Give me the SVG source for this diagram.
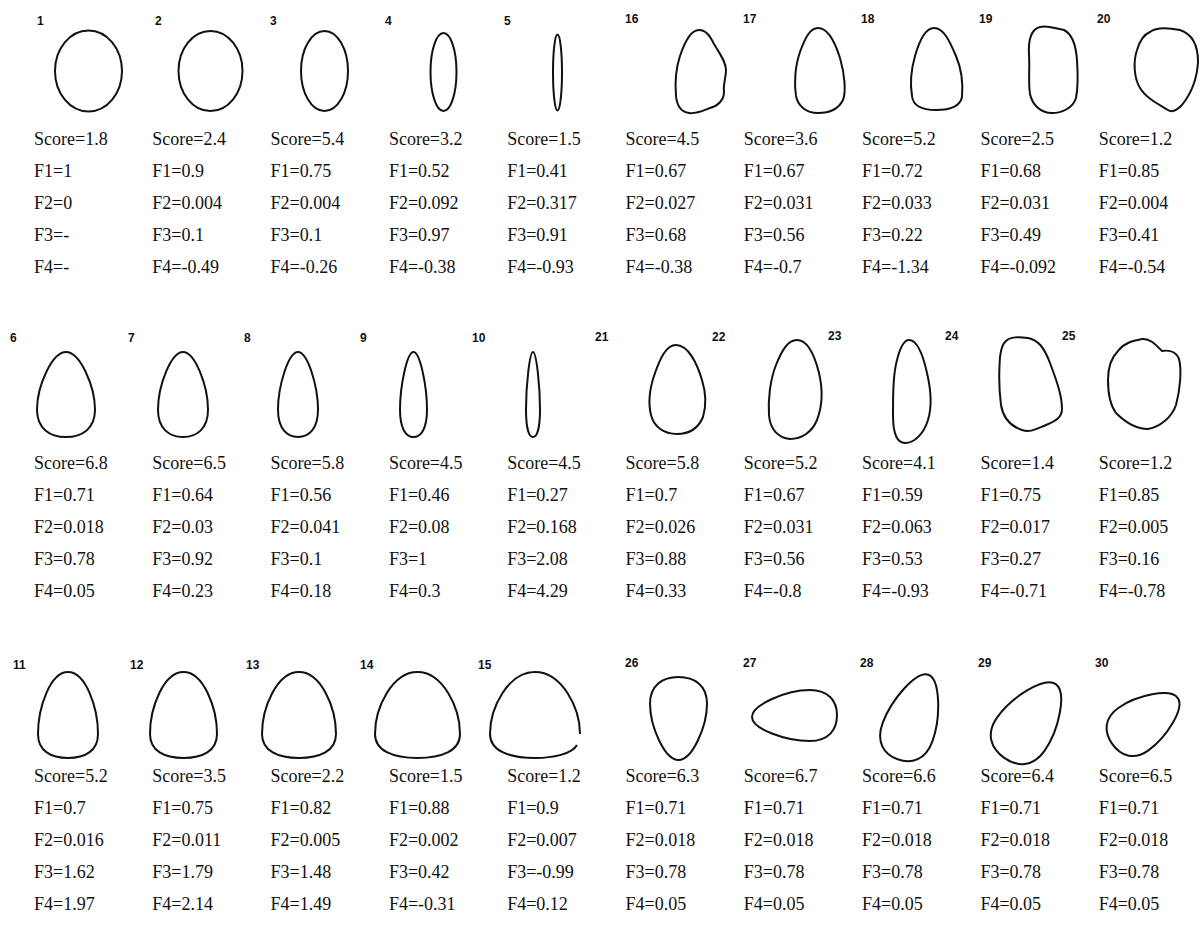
<svg xmlns="http://www.w3.org/2000/svg" width="1201" height="928" viewBox="0 0 1201 928">
<style>
.sh{fill:none;stroke:#111;stroke-width:2;stroke-linejoin:round}
.lb{font-family:"Liberation Sans",Arial,sans-serif;font-weight:bold;font-size:12px;fill:#111}
.t{font-family:"Liberation Serif","Times New Roman",serif;font-size:18px;fill:#111}
</style>
<rect width="1201" height="928" fill="#fff"/>

<!-- Row 1 -->
<g id="n1"><ellipse class="sh" cx="88.5" cy="71" rx="33.5" ry="40.5"/><text class="lb" x="37" y="25">1</text>
<text class="t" x="34" y="145"><tspan x="34">Score=1.8</tspan><tspan x="34" dy="31.9">F1=1</tspan><tspan x="34" dy="31.9">F2=0</tspan><tspan x="34" dy="31.9">F3=-</tspan><tspan x="34" dy="31.9">F4=-</tspan></text></g>
<g id="n2"><ellipse class="sh" cx="210.5" cy="71" rx="32" ry="40"/><text class="lb" x="155" y="25">2</text>
<text class="t" x="152.3" y="145"><tspan x="152.3">Score=2.4</tspan><tspan x="152.3" dy="31.9">F1=0.9</tspan><tspan x="152.3" dy="31.9">F2=0.004</tspan><tspan x="152.3" dy="31.9">F3=0.1</tspan><tspan x="152.3" dy="31.9">F4=-0.49</tspan></text></g>
<g id="n3"><ellipse class="sh" cx="324.5" cy="71" rx="23.5" ry="40"/><text class="lb" x="270" y="25">3</text>
<text class="t" x="270.6" y="145"><tspan x="270.6">Score=5.4</tspan><tspan x="270.6" dy="31.9">F1=0.75</tspan><tspan x="270.6" dy="31.9">F2=0.004</tspan><tspan x="270.6" dy="31.9">F3=0.1</tspan><tspan x="270.6" dy="31.9">F4=-0.26</tspan></text></g>
<g id="n4"><ellipse class="sh" cx="443.5" cy="72" rx="13" ry="39"/><text class="lb" x="385" y="25">4</text>
<text class="t" x="388.9" y="145"><tspan x="388.9">Score=3.2</tspan><tspan x="388.9" dy="31.9">F1=0.52</tspan><tspan x="388.9" dy="31.9">F2=0.092</tspan><tspan x="388.9" dy="31.9">F3=0.97</tspan><tspan x="388.9" dy="31.9">F4=-0.38</tspan></text></g>
<g id="n5"><ellipse class="sh" cx="557.5" cy="72.5" rx="4.5" ry="38"/><text class="lb" x="504" y="25">5</text>
<text class="t" x="507.2" y="145"><tspan x="507.2">Score=1.5</tspan><tspan x="507.2" dy="31.9">F1=0.41</tspan><tspan x="507.2" dy="31.9">F2=0.317</tspan><tspan x="507.2" dy="31.9">F3=0.91</tspan><tspan x="507.2" dy="31.9">F4=-0.93</tspan></text></g>
<g id="n16"><path class="sh" d="M699,30 C706,30 710,36 714,44 C720,54 726,62 726,70 C726,78 723,84 724,92 C724,100 718,106 710,108 C702,111 696,114 689,113 C681,112 677,106 676,96 C675,84 676,68 680,56 C684,44 690,30 699,30 Z"/><text class="lb" x="625" y="23">16</text>
<text class="t" x="625.5" y="145"><tspan x="625.5">Score=4.5</tspan><tspan x="625.5" dy="31.9">F1=0.67</tspan><tspan x="625.5" dy="31.9">F2=0.027</tspan><tspan x="625.5" dy="31.9">F3=0.68</tspan><tspan x="625.5" dy="31.9">F4=-0.38</tspan></text></g>
<g id="n17"><path class="sh" d="M818,28 C828,28 835,42 840,58 C845,75 846,92 843,100 C838,110 828,113 818,113 C806,113 798,106 796,96 C794,84 795,66 800,52 C805,38 810,28 818,28 Z"/><text class="lb" x="743" y="23">17</text>
<text class="t" x="743.8" y="145"><tspan x="743.8">Score=3.6</tspan><tspan x="743.8" dy="31.9">F1=0.67</tspan><tspan x="743.8" dy="31.9">F2=0.031</tspan><tspan x="743.8" dy="31.9">F3=0.56</tspan><tspan x="743.8" dy="31.9">F4=-0.7</tspan></text></g>
<g id="n18"><path class="sh" d="M934,28 C944,28 950,42 956,56 C962,70 963,85 962,97 C960,107 950,110 936,110 C922,110 913,106 912,96 C910,84 911,70 915,56 C919,42 925,28 934,28 Z"/><text class="lb" x="861" y="23">18</text>
<text class="t" x="862.1" y="145"><tspan x="862.1">Score=5.2</tspan><tspan x="862.1" dy="31.9">F1=0.72</tspan><tspan x="862.1" dy="31.9">F2=0.033</tspan><tspan x="862.1" dy="31.9">F3=0.22</tspan><tspan x="862.1" dy="31.9">F4=-1.34</tspan></text></g>
<g id="n19"><path class="sh" d="M1040,27 C1048,25 1056,29 1064,30 C1072,34 1076,46 1077,60 C1078,75 1078,88 1076,98 C1073,108 1062,113 1052,113 C1040,113 1032,104 1030,94 C1028,80 1030,70 1029,55 C1028,38 1032,29 1040,27 Z"/><text class="lb" x="979" y="23">19</text>
<text class="t" x="980.4" y="145"><tspan x="980.4">Score=2.5</tspan><tspan x="980.4" dy="31.9">F1=0.68</tspan><tspan x="980.4" dy="31.9">F2=0.031</tspan><tspan x="980.4" dy="31.9">F3=0.49</tspan><tspan x="980.4" dy="31.9">F4=-0.092</tspan></text></g>
<g id="n20"><path class="sh" d="M1150,32 C1156,27 1170,28 1180,30 C1192,34 1198,45 1198,62 C1197,80 1190,95 1182,105 C1177,110 1172,113 1168,110 C1158,104 1146,98 1140,88 C1134,78 1133,62 1137,50 C1140,40 1145,34 1150,32 Z"/><text class="lb" x="1097" y="23">20</text>
<text class="t" x="1098.7" y="145"><tspan x="1098.7">Score=1.2</tspan><tspan x="1098.7" dy="31.9">F1=0.85</tspan><tspan x="1098.7" dy="31.9">F2=0.004</tspan><tspan x="1098.7" dy="31.9">F3=0.41</tspan><tspan x="1098.7" dy="31.9">F4=-0.54</tspan></text></g>

<!-- Row 2 -->
<g id="n6"><path class="sh" d="M66,352 C79.9,352 95,386 95,409.8 C95,428.5 82.2,437 66,437 C49.8,437 37,428.5 37,409.8 C37,386 52.1,352 66,352 Z"/><text class="lb" x="10" y="341.5">6</text>
<text class="t" x="34" y="469"><tspan x="34">Score=6.8</tspan><tspan x="34" dy="31.9">F1=0.71</tspan><tspan x="34" dy="31.9">F2=0.018</tspan><tspan x="34" dy="31.9">F3=0.78</tspan><tspan x="34" dy="31.9">F4=0.05</tspan></text></g>
<g id="n7"><path class="sh" d="M183,352 C195,352 208,386 208,409.8 C208,428.5 197,437 183,437 C169,437 158,428.5 158,409.8 C158,386 171,352 183,352 Z"/><text class="lb" x="128" y="341.5">7</text>
<text class="t" x="152.3" y="469"><tspan x="152.3">Score=6.5</tspan><tspan x="152.3" dy="31.9">F1=0.64</tspan><tspan x="152.3" dy="31.9">F2=0.03</tspan><tspan x="152.3" dy="31.9">F3=0.92</tspan><tspan x="152.3" dy="31.9">F4=0.23</tspan></text></g>
<g id="n8"><path class="sh" d="M298,352 C307.6,352 318,386 318,409.8 C318,428.5 309.2,437 298,437 C286.8,437 278,428.5 278,409.8 C278,386 288.4,352 298,352 Z"/><text class="lb" x="244" y="341.5">8</text>
<text class="t" x="270.6" y="469"><tspan x="270.6">Score=5.8</tspan><tspan x="270.6" dy="31.9">F1=0.56</tspan><tspan x="270.6" dy="31.9">F2=0.041</tspan><tspan x="270.6" dy="31.9">F3=0.1</tspan><tspan x="270.6" dy="31.9">F4=0.18</tspan></text></g>
<g id="n9"><path class="sh" d="M413.5,352 C420,352 427,386 427,409.8 C427,428.5 421.1,437 413.5,437 C405.9,437 400,428.5 400,409.8 C400,386 407,352 413.5,352 Z"/><text class="lb" x="360" y="341.5">9</text>
<text class="t" x="388.9" y="469"><tspan x="388.9">Score=4.5</tspan><tspan x="388.9" dy="31.9">F1=0.46</tspan><tspan x="388.9" dy="31.9">F2=0.08</tspan><tspan x="388.9" dy="31.9">F3=1</tspan><tspan x="388.9" dy="31.9">F4=0.3</tspan></text></g>
<g id="n10"><path class="sh" d="M533,352 C536.4,352 540,386 540,409.8 C540,428.5 536.9,437 533,437 C529.1,437 526,428.5 526,409.8 C526,386 529.6,352 533,352 Z"/><text class="lb" x="472" y="341.5">10</text>
<text class="t" x="507.2" y="469"><tspan x="507.2">Score=4.5</tspan><tspan x="507.2" dy="31.9">F1=0.27</tspan><tspan x="507.2" dy="31.9">F2=0.168</tspan><tspan x="507.2" dy="31.9">F3=2.08</tspan><tspan x="507.2" dy="31.9">F4=4.29</tspan></text></g>
<g id="n21"><path class="sh" transform="translate(0,-5)" d="M676,350 C688,350 697,368 702,385 C706,398 706,412 703,422 C698,434 688,439 677,439 C664,439 654,432 651,420 C648,408 650,392 655,378 C660,364 666,350 676,350 Z"/><text class="lb" x="595" y="341">21</text>
<text class="t" x="625.5" y="469"><tspan x="625.5">Score=5.8</tspan><tspan x="625.5" dy="31.9">F1=0.7</tspan><tspan x="625.5" dy="31.9">F2=0.026</tspan><tspan x="625.5" dy="31.9">F3=0.88</tspan><tspan x="625.5" dy="31.9">F4=0.33</tspan></text></g>
<g id="n22"><path class="sh" transform="translate(0,-5)" d="M797,345 C808,345 815,362 819,378 C823,395 822,412 817,425 C812,437 802,444 790,444 C778,443 770,434 769,420 C768,405 770,385 776,370 C782,355 788,345 797,345 Z"/><text class="lb" x="712" y="341">22</text>
<text class="t" x="743.8" y="469"><tspan x="743.8">Score=5.2</tspan><tspan x="743.8" dy="31.9">F1=0.67</tspan><tspan x="743.8" dy="31.9">F2=0.031</tspan><tspan x="743.8" dy="31.9">F3=0.56</tspan><tspan x="743.8" dy="31.9">F4=-0.8</tspan></text></g>
<g id="n23"><path class="sh" transform="translate(0,-5)" d="M909,345 C917,345 923,360 927,378 C931,395 932,412 928,425 C924,438 915,448 905,448 C896,448 893,436 893,420 C893,400 893,380 897,365 C900,353 904,345 909,345 Z"/><text class="lb" x="828" y="339.5">23</text>
<text class="t" x="862.1" y="469"><tspan x="862.1">Score=4.1</tspan><tspan x="862.1" dy="31.9">F1=0.59</tspan><tspan x="862.1" dy="31.9">F2=0.063</tspan><tspan x="862.1" dy="31.9">F3=0.53</tspan><tspan x="862.1" dy="31.9">F4=-0.93</tspan></text></g>
<g id="n24"><path class="sh" transform="translate(0,-5)" d="M1005,347 C1010,341 1020,342 1028,343 C1038,345 1044,352 1050,368 C1056,384 1062,400 1062,414 C1062,422 1056,426 1046,430 C1036,434 1030,438 1022,435 C1010,431 1003,422 1001,410 C999,395 999,375 1000,362 C1001,354 1002,350 1005,347 Z"/><text class="lb" x="945" y="339.5">24</text>
<text class="t" x="980.4" y="469"><tspan x="980.4">Score=1.4</tspan><tspan x="980.4" dy="31.9">F1=0.75</tspan><tspan x="980.4" dy="31.9">F2=0.017</tspan><tspan x="980.4" dy="31.9">F3=0.27</tspan><tspan x="980.4" dy="31.9">F4=-0.71</tspan></text></g>
<g id="n25"><path class="sh" transform="translate(0,-5)" d="M1118,356 C1124,348 1132,346 1142,344 C1150,343 1156,350 1162,356 C1168,355 1176,356 1179,364 C1182,375 1180,395 1176,410 C1172,422 1160,432 1148,434 C1136,434 1124,426 1116,418 C1110,410 1108,398 1108,385 C1108,372 1112,362 1118,356 Z"/><text class="lb" x="1062" y="339.5">25</text>
<text class="t" x="1098.7" y="469"><tspan x="1098.7">Score=1.2</tspan><tspan x="1098.7" dy="31.9">F1=0.85</tspan><tspan x="1098.7" dy="31.9">F2=0.005</tspan><tspan x="1098.7" dy="31.9">F3=0.16</tspan><tspan x="1098.7" dy="31.9">F4=-0.78</tspan></text></g>

<!-- Row 3 -->
<g id="n11"><path class="sh" d="M68,672 C86,672 98,708.1 98,733.9 C98,751.1 84.8,758 68,758 C51.2,758 38,751.1 38,733.9 C38,708.1 50,672 68,672 Z"/><text class="lb" x="13" y="668.5">11</text>
<text class="t" x="34" y="782"><tspan x="34">Score=5.2</tspan><tspan x="34" dy="31.9">F1=0.7</tspan><tspan x="34" dy="31.9">F2=0.016</tspan><tspan x="34" dy="31.9">F3=1.62</tspan><tspan x="34" dy="31.9">F4=1.97</tspan></text></g>
<g id="n12"><path class="sh" d="M183.5,672 C203.6,672 217,708.1 217,733.9 C217,751.1 202.3,758 183.5,758 C164.7,758 150,751.1 150,733.9 C150,708.1 163.4,672 183.5,672 Z"/><text class="lb" x="130" y="668.5">12</text>
<text class="t" x="152.3" y="782"><tspan x="152.3">Score=3.5</tspan><tspan x="152.3" dy="31.9">F1=0.75</tspan><tspan x="152.3" dy="31.9">F2=0.011</tspan><tspan x="152.3" dy="31.9">F3=1.79</tspan><tspan x="152.3" dy="31.9">F4=2.14</tspan></text></g>
<g id="n13"><path class="sh" d="M299,672 C321.2,672 336,708.1 336,733.9 C336,751.1 319.7,758 299,758 C278.3,758 262,751.1 262,733.9 C262,708.1 276.8,672 299,672 Z"/><text class="lb" x="246" y="668.5">13</text>
<text class="t" x="270.6" y="782"><tspan x="270.6">Score=2.2</tspan><tspan x="270.6" dy="31.9">F1=0.82</tspan><tspan x="270.6" dy="31.9">F2=0.005</tspan><tspan x="270.6" dy="31.9">F3=1.48</tspan><tspan x="270.6" dy="31.9">F4=1.49</tspan></text></g>
<g id="n14"><path class="sh" d="M417.5,672 C443,672 460,708.1 460,733.9 C460,751.1 441.3,758 417.5,758 C393.7,758 375,751.1 375,733.9 C375,708.1 392,672 417.5,672 Z"/><text class="lb" x="360" y="668.5">14</text>
<text class="t" x="388.9" y="782"><tspan x="388.9">Score=1.5</tspan><tspan x="388.9" dy="31.9">F1=0.88</tspan><tspan x="388.9" dy="31.9">F2=0.002</tspan><tspan x="388.9" dy="31.9">F3=0.42</tspan><tspan x="388.9" dy="31.9">F4=-0.31</tspan></text></g>
<g id="n15"><path class="sh" d="M580,733.9 C580,708.1 562,672 535,672 C508,672 490,708.1 490,733.9 C490,751.1 509.8,758 535,758 C553,758 572,754 577,745"/><text class="lb" x="478" y="668.5">15</text>
<text class="t" x="507.2" y="782"><tspan x="507.2">Score=1.2</tspan><tspan x="507.2" dy="31.9">F1=0.9</tspan><tspan x="507.2" dy="31.9">F2=0.007</tspan><tspan x="507.2" dy="31.9">F3=-0.99</tspan><tspan x="507.2" dy="31.9">F4=0.12</tspan></text></g>
<g id="n26"><path class="sh" d="M678.5,760 C692.2,760 707,726.8 707,703.6 C707,685.3 694.5,677 678.5,677 C662.5,677 650,685.3 650,703.6 C650,726.8 664.8,760 678.5,760 Z"/><text class="lb" x="625" y="666.5">26</text>
<text class="t" x="625.5" y="782"><tspan x="625.5">Score=6.3</tspan><tspan x="625.5" dy="31.9">F1=0.71</tspan><tspan x="625.5" dy="31.9">F2=0.018</tspan><tspan x="625.5" dy="31.9">F3=0.78</tspan><tspan x="625.5" dy="31.9">F4=0.05</tspan></text></g>
<g id="n27"><path class="sh" d="M752,717 C752,729 786,741 809.8,741 C828.5,741 837,730 837,715 C837,701 828.5,690 809.8,690 C786,690 752,705 752,717 Z"/><text class="lb" x="743" y="666.5">27</text>
<text class="t" x="743.8" y="782"><tspan x="743.8">Score=6.7</tspan><tspan x="743.8" dy="31.9">F1=0.71</tspan><tspan x="743.8" dy="31.9">F2=0.018</tspan><tspan x="743.8" dy="31.9">F3=0.78</tspan><tspan x="743.8" dy="31.9">F4=0.05</tspan></text></g>
<g id="n28"><path class="sh" d="M928.4,674.7 C940.3,679.1 941,717.6 932.4,741.3 C925.6,759.9 911.6,764.4 897.6,759.3 C883.7,754.2 875.8,741.8 882.6,723.2 C891.2,699.5 916.4,670.4 928.4,674.7 Z"/><text class="lb" x="860" y="666.5">28</text>
<text class="t" x="862.1" y="782"><tspan x="862.1">Score=6.6</tspan><tspan x="862.1" dy="31.9">F1=0.71</tspan><tspan x="862.1" dy="31.9">F2=0.018</tspan><tspan x="862.1" dy="31.9">F3=0.78</tspan><tspan x="862.1" dy="31.9">F4=0.05</tspan></text></g>
<g id="n29"><path class="sh" d="M1055.8,684.1 C1067.2,692.1 1058.9,730.3 1044.5,750.9 C1033.1,767.1 1017.5,767.2 1004.2,757.9 C990.9,748.5 985.6,733.9 997,717.6 C1011.4,697 1044.4,676.2 1055.8,684.1 Z"/><text class="lb" x="978" y="666.5">29</text>
<text class="t" x="980.4" y="782"><tspan x="980.4">Score=6.4</tspan><tspan x="980.4" dy="31.9">F1=0.71</tspan><tspan x="980.4" dy="31.9">F2=0.018</tspan><tspan x="980.4" dy="31.9">F3=0.78</tspan><tspan x="980.4" dy="31.9">F4=0.05</tspan></text></g>
<g id="n30"><path class="sh" d="M1177.8,698.1 C1184.9,708.3 1166.5,737.7 1148.1,750.6 C1133.7,760.7 1120.6,755.9 1112.2,743.9 C1103.9,732 1103.9,718.1 1118.3,708 C1136.6,695.1 1170.6,687.8 1177.8,698.1 Z"/><text class="lb" x="1095" y="666.5">30</text>
<text class="t" x="1098.7" y="782"><tspan x="1098.7">Score=6.5</tspan><tspan x="1098.7" dy="31.9">F1=0.71</tspan><tspan x="1098.7" dy="31.9">F2=0.018</tspan><tspan x="1098.7" dy="31.9">F3=0.78</tspan><tspan x="1098.7" dy="31.9">F4=0.05</tspan></text></g>
</svg>
